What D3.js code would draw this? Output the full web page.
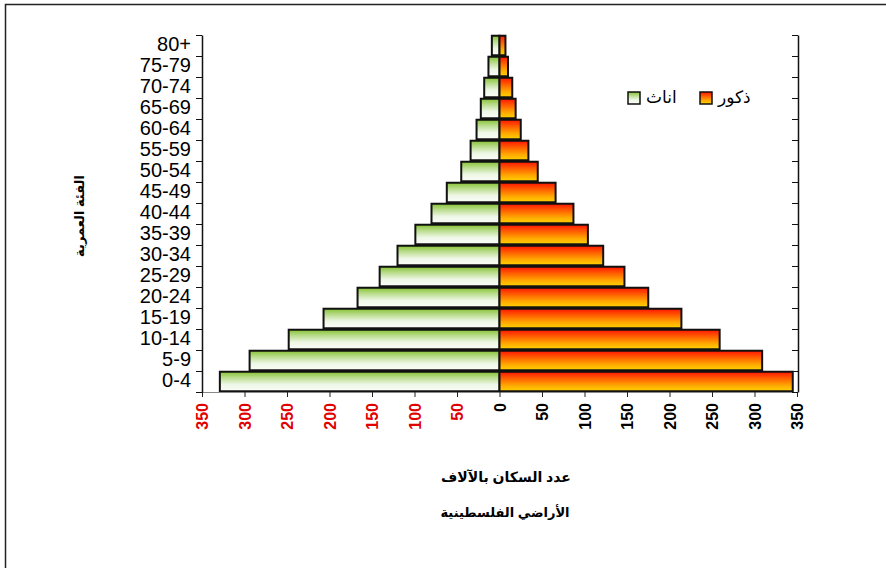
<!DOCTYPE html>
<html>
<head>
<meta charset="utf-8">
<script src="https://cdn.jsdelivr.net/npm/d3@7"></script>
<style>
  body { margin: 0; background: #fff; }
  text { font-family: "Liberation Sans", Arial, "DejaVu Sans", sans-serif; }
</style>
</head>
<body>
<svg width="886" height="568"></svg>
<script>
// age groups, bottom to top
var ages = ["0-4", "5-9", "10-14", "15-19", "20-24", "25-29", "30-34", "35-39", "40-44",
            "45-49", "50-54", "55-59", "60-64", "65-69", "70-74", "75-79", "80+"];
// thousands
var males   = [345, 309, 259, 214, 175, 147, 122, 104, 87, 66, 45, 34, 25, 19, 15, 10, 7];
var females = [329, 294, 248, 207, 167, 141, 120, 99, 80, 62, 45, 34, 27, 22, 18, 13, 9];
var xTicks = [-350, -300, -250, -200, -150, -100, -50, 0, 50, 100, 150, 200, 250, 300, 350];

var svg = d3.select("svg");

// frame
svg.append("path").attr("d", "M5.5,568V4.5H886")
  .attr("fill", "none").attr("stroke", "#222").attr("stroke-width", 1.5);

var defs = svg.append("defs");
function grad(id, stops) {
  var g = defs.append("linearGradient").attr("id", id)
    .attr("x1", 0).attr("y1", 0).attr("x2", 0).attr("y2", 1);
  stops.forEach(function(s) {
    g.append("stop").attr("offset", s[0]).attr("stop-color", s[1]);
  });
}
grad("gF", [[0, "#86c232"], [0.3, "#b9dc8c"], [0.65, "#eef7e6"], [1, "#fbfdf8"]]);
grad("gM", [[0, "#ff1500"], [0.35, "#ff6000"], [0.7, "#ffa800"], [1, "#ffd200"]]);

var x = d3.scaleLinear().domain([-350, 350]).range([202, 797]);
var y = d3.scaleBand().domain(ages).range([392, 35]).paddingInner(0.07).paddingOuter(0.035);
var yb = d3.scaleLinear().domain([0, ages.length]).range([392, 35]);

// bars
svg.append("g").selectAll("rect").data(ages).enter().append("rect")
  .attr("x", function(d, i) { return x(-females[i]); })
  .attr("y", function(d) { return y(d); })
  .attr("width", function(d, i) { return x(0) - x(-females[i]); })
  .attr("height", y.bandwidth())
  .attr("fill", "url(#gF)").attr("stroke", "#111").attr("stroke-width", 2);

svg.append("g").selectAll("rect").data(ages).enter().append("rect")
  .attr("x", x(0))
  .attr("y", function(d) { return y(d); })
  .attr("width", function(d, i) { return x(males[i]) - x(0); })
  .attr("height", y.bandwidth())
  .attr("fill", "url(#gM)").attr("stroke", "#111").attr("stroke-width", 2);

// bottom axis
var xa = svg.append("g").attr("transform", "translate(0,392)")
  .call(d3.axisBottom(x).tickValues(xTicks).tickSizeInner(5).tickSizeOuter(0)
    .tickFormat(function(d) { return Math.abs(d); }));
xa.select(".domain").attr("stroke", "#888").attr("d", "M196,0.5H798");
xa.selectAll(".tick line").attr("stroke", "#222");
xa.selectAll(".tick text")
  .attr("transform", "rotate(-90)")
  .attr("text-anchor", "end")
  .attr("x", -11).attr("y", 0).attr("dy", "0.35em")
  .attr("font-size", 16).attr("font-weight", "bold")
  .attr("fill", function(d) { return d < 0 ? "#e00000" : "#000"; });

// left axis: boundary ticks + labels
var la = svg.append("g").attr("transform", "translate(202,0)")
  .call(d3.axisLeft(yb).ticks(ages.length).tickSizeInner(6).tickSizeOuter(0).tickFormat(""));
la.select(".domain").attr("stroke", "#111").attr("stroke-width", 1.5);
la.selectAll(".tick line").attr("stroke", "#111");

svg.append("g").selectAll("text").data(ages).enter().append("text")
  .attr("x", 191)
  .attr("y", function(d) { return y(d) + y.bandwidth() / 2; })
  .attr("dy", "0.25em")
  .attr("text-anchor", "end")
  .attr("font-size", 20)
  .text(function(d) { return d; });

// right axis
var ra = svg.append("g").attr("transform", "translate(798,0)")
  .call(d3.axisLeft(yb).ticks(ages.length).tickSizeInner(6).tickSizeOuter(0).tickFormat(""));
ra.select(".domain").attr("stroke", "#111").attr("stroke-width", 1.5);
ra.selectAll(".tick line").attr("stroke", "#111");

// titles
svg.append("text")
  .attr("transform", "translate(84,216) rotate(-90)")
  .attr("text-anchor", "middle").attr("font-size", 13).attr("font-weight", "bold")
  .text("الفئة العمرية");

svg.append("text").attr("x", 506).attr("y", 482)
  .attr("text-anchor", "middle").attr("font-size", 14).attr("font-weight", "bold")
  .text("عدد السكان بالآلاف");

svg.append("text").attr("x", 505).attr("y", 517)
  .attr("text-anchor", "middle").attr("font-size", 13).attr("font-weight", "bold")
  .text("الأراضي الفلسطينية");

// legend
var legend = [["اناث", "url(#gF)", 628], ["ذكور", "url(#gM)", 700]];
var lg = svg.append("g").selectAll("g").data(legend).enter().append("g")
  .attr("transform", function(d) { return "translate(" + d[2] + ",92)"; });
lg.append("rect").attr("width", 12).attr("height", 12)
  .attr("fill", function(d) { return d[1]; }).attr("stroke", "#111").attr("stroke-width", 1.5);
lg.append("text").attr("x", 18).attr("y", 11).attr("font-size", 17)
  .attr("text-anchor", "start")
  .text(function(d) { return d[0]; });
</script>
</body>
</html>
